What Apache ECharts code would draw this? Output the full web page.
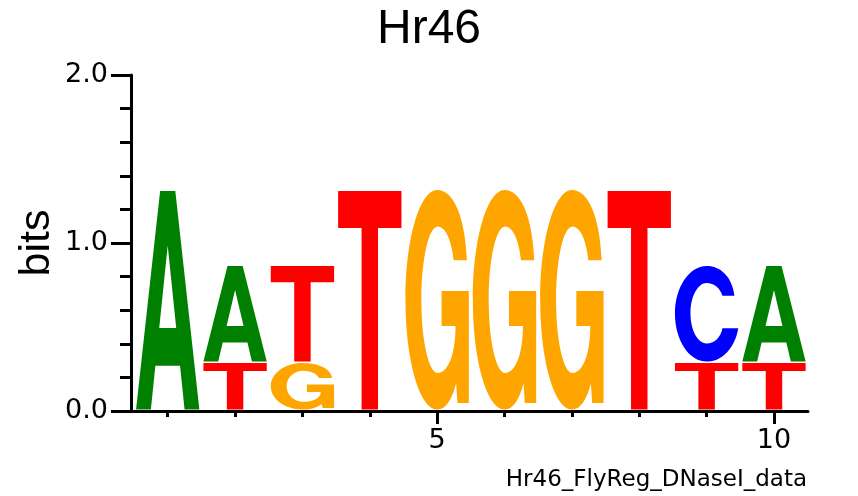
<!DOCTYPE html>
<html>
<head>
<meta charset="utf-8">
<script src="https://cdn.jsdelivr.net/npm/echarts@6/dist/echarts.min.js"></script>
<style>html,body{margin:0;padding:0;background:#fff;}#chart{width:858px;height:496px;}</style>
</head>
<body>
<div id="chart"></div>
<script>
// ---- data ----
const positions = [1, 2, 3, 4, 5, 6, 7, 8, 9, 10];
const letters = ['A', 'C', 'G', 'T'];
const bitsA = [1.31, 0.578, 0, 0, 0, 0, 0, 0, 0, 0.578];
const bitsC = [0, 0, 0, 0, 0, 0, 0, 0, 0.578, 0];
const bitsG = [0, 0, 0.285, 0, 1.315, 1.315, 1.315, 0, 0, 0];
const bitsT = [0, 0.285, 0.578, 1.31, 0, 0, 0, 1.31, 0.285, 0.285];
const yTickValues = [0, 1, 2];
const xTickLabels = [5, 10];
const titleText = 'Hr46';
const subText = 'Hr46_FlyReg_DNaseI_data';
const yName = 'bits';

// ---- glyph outlines (stretched to each cell) ----
const GLYPHS = {
  A: 'M0 100 L38 0 L62 0 L100 100 L76.6 100 L69.5 80 L30.5 80 L23.4 100 Z M50 25 L36.6 62.7 L63.4 62.7 Z',
  C: 'M94 31 C90 11 72 0 50 0 C22.4 0 0 22.4 0 50 C0 77.6 22.4 100 50 100 C75 100 95 85 100 65 L75 65 C72 75 62 81 50 81 C35.9 81 24.5 67 24.5 49.4 C24.5 31.9 35.9 17.7 50 17.7 C62 17.7 71 23 75 31 Z',
  G: 'M97 32 C94 12 76 0 50 0 C22.4 0 0 22.4 0 50 C0 77.6 22.4 100 50 100 C64 100 74 95 80 88 L82 97 L100 97 L100 46 L57 46 L57 62 L79 62 C79 75 67 83.4 51 83.4 C36.6 83.4 25 68.4 25 50 C25 31.6 36.6 16.6 51 16.6 C63 16.6 73 23 76 32 Z',
  T: 'M0 0 H100 V17 H63 V100 H37 V17 H0 Z'
};
const COLORS = ['#008000', '#0000ff', '#ffa500', '#ff0000'];

// build stacked letter cells
const allBits = [bitsA, bitsC, bitsG, bitsT];
const cells = [];
positions.forEach(function (p, i) {
  const col = [];
  for (let l = 0; l < letters.length; l++) {
    if (allBits[l][i] > 0) col.push([l, allBits[l][i]]);
  }
  col.sort(function (a, b) { return a[1] - b[1]; });
  let base = 0;
  col.forEach(function (c) {
    cells.push([p, c[0], base, base + c[1]]);
    base += c[1];
  });
});

const chart = echarts.init(document.getElementById('chart'), null, {renderer: 'canvas'});
const FONT = 'Liberation Sans';
const TICKFONT = 'DejaVu Sans';
chart.setOption({
  animation: false,
  backgroundColor: '#fff',
  title: [
    {text: titleText, left: 'center', top: 1,
     textStyle: {fontFamily: FONT, fontSize: 48, fontWeight: 'normal', color: '#000'}},
    {text: subText, right: 46, top: 464,
     textStyle: {fontFamily: TICKFONT, fontSize: 23, fontWeight: 'normal', color: '#000'}}
  ],
  grid: {left: 131, right: 50, top: 75, bottom: 85, containLabel: false},
  xAxis: [
    {type: 'value', min: 0.455, max: 10.505, gridIndex: 0,
     splitLine: {show: false},
     axisLine: {show: true, lineStyle: {color: '#000', width: 3}},
     axisTick: {show: true, customValues: xTickLabels, length: 13, lineStyle: {color: '#000', width: 3}},
     axisLabel: {show: true, customValues: xTickLabels, margin: 16,
       fontFamily: TICKFONT, fontSize: 27, color: '#000'}},
    {type: 'value', min: 0.455, max: 10.505, gridIndex: 0, position: 'bottom',
     splitLine: {show: false},
     axisLine: {show: false},
     axisTick: {show: true, customValues: positions, length: 6, lineStyle: {color: '#000', width: 3}},
     axisLabel: {show: false}}
  ],
  yAxis: {
    type: 'value', min: 0, max: 2, interval: 1,
    name: yName, nameLocation: 'middle', nameGap: 72, nameRotate: 90,
    nameMoveOverlap: false,
    nameTextStyle: {fontFamily: FONT, fontSize: 43, color: '#000'},
    splitLine: {show: false},
    axisLine: {show: true, lineStyle: {color: '#000', width: 3}},
    axisTick: {show: true, length: 20, lineStyle: {color: '#000', width: 3}},
    minorTick: {show: true, splitNumber: 5, length: 11, lineStyle: {color: '#000', width: 3}},
    axisLabel: {margin: 23, fontFamily: TICKFONT, fontSize: 27, color: '#000',
      formatter: function (v) { return v.toFixed(1); }}
  },
  series: [{
    type: 'custom',
    xAxisIndex: 0, yAxisIndex: 0,
    clip: false,
    encode: {x: 0, y: [2, 3]},
    data: cells,
    renderItem: function (params, api) {
      const pos = api.value(0), li = api.value(1), y0 = api.value(2), y1 = api.value(3);
      const p1 = api.coord([pos - 0.47, y1]);
      const p2 = api.coord([pos + 0.47, y0]);
      return {
        type: 'path',
        shape: {pathData: GLYPHS[letters[li]], x: p1[0], y: p1[1],
                width: p2[0] - p1[0], height: p2[1] - p1[1] - 1.5, layout: 'cover'},
        style: {fill: COLORS[li]}
      };
    }
  }]
});
</script>
</body>
</html>
